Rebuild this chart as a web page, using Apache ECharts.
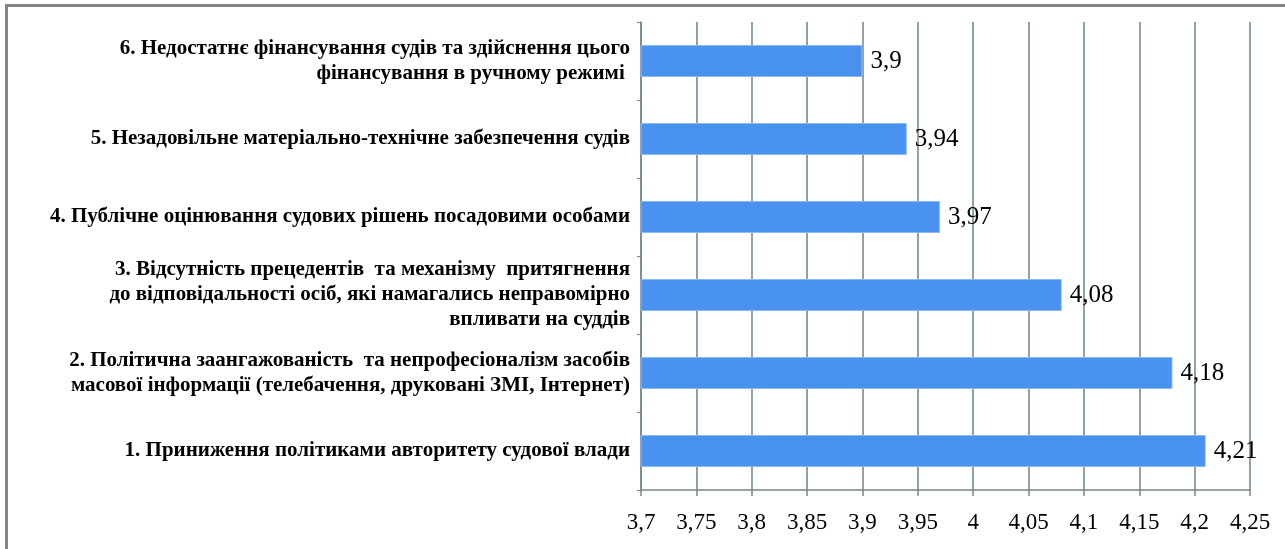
<!DOCTYPE html>
<html>
<head>
<meta charset="utf-8">
<script src="https://cdn.jsdelivr.net/npm/echarts@6/dist/echarts.min.js"></script>
<style>
  html, body { margin: 0; padding: 0; background: #fff; overflow: hidden; }
  #frame { position: absolute; left: 5px; top: 4px; width: 2000px; height: 2000px; border: 3px solid #858585; box-sizing: border-box; pointer-events: none; }
  #chart { position: absolute; left: 0; top: 0; width: 1285px; height: 549px; }
</style>
</head>
<body>
<div id="chart"></div>
<div id="frame"></div>
<script>
var categories = [
  '1. Приниження політиками авторитету судової влади',
  '2. Політична заангажованість  та непрофесіоналізм засобів\nмасової інформації (телебачення, друковані ЗМІ, Інтернет)',
  '3. Відсутність прецедентів  та механізму  притягнення\nдо відповідальності осіб, які намагались неправомірно\nвпливати на суддів',
  '4. Публічне оцінювання судових рішень посадовими особами',
  '5. Незадовільне матеріально-технічне забезпечення судів',
  '6. Недостатнє фінансування судів та здійснення цього\nфінансування в ручному режимі '
];
var values = [4.21, 4.18, 4.08, 3.97, 3.94, 3.9];

var container = document.getElementById('chart');
var chart = echarts.init(container);

var serif = '"Liberation Serif", "DejaVu Serif", serif';
var comma = v => String(v).replace('.', ',');

chart.setOption({
  animation: false,
  grid: { left: 641, right: 35, top: 22, bottom: 59 },
  xAxis: {
    type: 'value',
    min: 3.7,
    max: 4.25,
    interval: 0.05,
    axisLine: { show: true, lineStyle: { color: '#7a8884', width: 1.5 } },
    axisTick: { show: true, length: 6, lineStyle: { color: '#7a8884', width: 1.5 } },
    splitLine: { show: true, lineStyle: { color: '#6e8580', width: 1.5 } },
    axisLabel: {
      margin: 21,
      color: '#000',
      fontFamily: serif,
      fontSize: 23,
      formatter: v => comma(Math.round(v * 100) / 100)
    }
  },
  yAxis: {
    type: 'category',
    data: categories,
    axisLine: { show: true, lineStyle: { color: '#7a8884', width: 1.5 } },
    axisTick: { show: true, length: 4, lineStyle: { color: '#7a8884' } },
    axisLabel: {
      margin: 11,
      color: '#000',
      fontFamily: serif,
      fontWeight: 'bold',
      fontSize: 21,
      lineHeight: 25,
      align: 'right'
    }
  },
  series: [{
    type: 'bar',
    data: values,
    barWidth: 32,
    itemStyle: { color: '#4a92f0', borderColor: '#8cb8f5', borderWidth: 1 },
    label: {
      show: true,
      position: 'right',
      distance: 8,
      color: '#000',
      fontFamily: serif,
      fontSize: 25,
      formatter: p => comma(p.value)
    }
  }]
});
</script>
</body>
</html>
